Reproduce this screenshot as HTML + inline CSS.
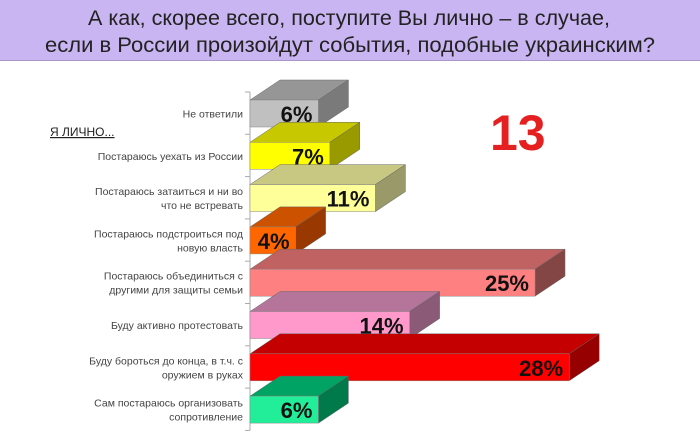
<!DOCTYPE html>
<html><head><meta charset="utf-8"><style>
body{margin:0;background:#fff;width:700px;height:438px;overflow:hidden}
svg{display:block;font-family:"Liberation Sans",sans-serif}
</style></head><body>
<svg id="c" width="700" height="438">
<rect x="0" y="0" width="700" height="60" fill="#c9b5f2"/>
<line x1="0" y1="60.5" x2="700" y2="60.5" stroke="#a898c8"/>
<text x="349" y="25" text-anchor="middle" font-size="21" fill="#222" textLength="522" lengthAdjust="spacingAndGlyphs">А как, скорее всего, поступите Вы лично – в случае,</text>
<text x="350" y="52" text-anchor="middle" font-size="21" fill="#222" textLength="610" lengthAdjust="spacingAndGlyphs">если в России произойдут события, подобные украинским?</text>
<text x="50" y="136" font-size="12" fill="#222" text-decoration="underline">Я ЛИЧНО...</text>
<text x="490" y="150" font-size="50" font-weight="bold" fill="#e52020">13</text>
<g id="bars"></g>
</svg>
<script>
const categories=[["Не ответили"],["Постараюсь уехать из России"],["Постараюсь затаиться и ни во","что не встревать"],["Постараюсь подстроиться под","новую власть"],["Постараюсь объединиться с","другими для защиты семьи"],["Буду активно протестовать"],["Буду бороться до конца, в т.ч. с","оружием в руках"],["Сам постараюсь организовать","сопротивление"]];
const values=[6,7,11,4,25,14,28,6];
const valueLabels=["6%","7%","11%","4%","25%","14%","28%","6%"];
const colors=[["#c0c0c0","#969696","#7a7a7a"],["#ffff00","#c8c800","#999900"],["#ffff99","#c8c882","#99996a"],["#ff6600","#cc5200","#993800"],["#ff8080","#c06262","#844545"],["#ff99cc","#b5759a","#8a5a76"],["#ff0000","#c40000","#960000"],["#22ee99","#00a363","#007a4a"]];
const x0=250,scale=11.4,bandTop=92,band=42.3,dx=30,dy=20;
function xs(v){return x0+v*scale}
function yb(i){return bandTop+i*band}
const g=document.getElementById('bars');
const ns="http://www.w3.org/2000/svg";
function mk(t,a){const e=document.createElementNS(ns,t);for(const k in a)e.setAttribute(k,a[k]);return e}
const ax=mk('line',{x1:x0,y1:bandTop,x2:x0,y2:yb(values.length),stroke:'#aaa'});


g.appendChild(ax);
for(let i=0;i<=values.length;i++){
 const t=mk('line',{x1:x0-5,y1:yb(i),x2:x0,y2:yb(i),stroke:'#aaa'});
 
 
 g.appendChild(t);
}
values.forEach((v,i)=>{
 const c=colors[i];const y=yb(i)+8,h=27,x1=xs(v);
 const grp=mk('g',{});
 
 
 grp.appendChild(mk('polygon',{points:`${x0},${y} ${x0+dx},${y-dy} ${x1+dx},${y-dy} ${x1},${y}`,fill:c[1],stroke:'#666','stroke-width':0.5}));
 grp.appendChild(mk('polygon',{points:`${x1},${y} ${x1+dx},${y-dy} ${x1+dx},${y-dy+h} ${x1},${y+h}`,fill:c[2],stroke:'#666','stroke-width':0.5}));
 grp.appendChild(mk('rect',{x:x0,y:y,width:x1-x0,height:h,fill:c[0],stroke:'#888','stroke-width':0.5}));
 const vt=mk('text',{x:x1-6,y:y+22,'text-anchor':'end','font-size':22,'font-weight':'bold',fill:'#111'});
 vt.textContent=valueLabels[i];
 
 
 grp.appendChild(vt);
 g.appendChild(grp);
 const lines=categories[i];const cy=y+h/2;
 lines.forEach((s,j)=>{
  const lt=mk('text',{x:243,y:cy+4+(j-(lines.length-1)/2)*14,'text-anchor':'end','font-size':10.5,fill:'#444'});
  lt.textContent=s;
  
  
  g.appendChild(lt);
 });
});
</script>
</body></html>
